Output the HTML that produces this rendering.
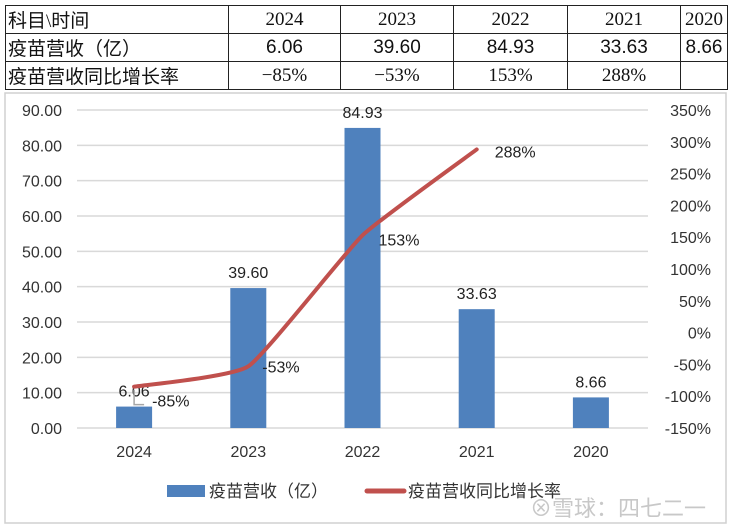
<!DOCTYPE html>
<html><head><meta charset="utf-8"><style>
body{margin:0;width:732px;height:528px;background:#fff;overflow:hidden;font-family:"Liberation Sans","Noto Sans CJK SC",sans-serif}
table{position:absolute;left:5px;top:5px;border-collapse:collapse;font-size:19px;table-layout:fixed;width:722px}
td{border:1.5px solid #222;height:27px;padding:0;text-align:center;color:#111;font-family:"Liberation Serif","Noto Sans CJK SC",serif;overflow:hidden;white-space:nowrap}
td.h{text-align:left;padding-left:2px}
td.n{font-family:"Liberation Sans","Noto Sans CJK SC",sans-serif}
</style></head><body>
<table>
<colgroup><col style="width:223px"><col style="width:112px"><col style="width:113px"><col style="width:114px"><col style="width:113px"><col style="width:47px"></colgroup>
<tr><td class="h">科目\时间</td><td>2024</td><td>2023</td><td>2022</td><td>2021</td><td>2020</td></tr>
<tr><td class="h">疫苗营收（亿）</td><td class="n">6.06</td><td class="n">39.60</td><td class="n">84.93</td><td class="n">33.63</td><td class="n">8.66</td></tr>
<tr><td class="h">疫苗营收同比增长率</td><td>−85%</td><td>−53%</td><td>153%</td><td>288%</td><td></td></tr>
</table>
<svg id="chart" width="732" height="528" style="position:absolute;left:0;top:0">
<rect x="5" y="93" width="721" height="430" fill="none" stroke="#d0d0d0" stroke-width="1.5"/>
</svg>
<script>
const categories=["2024","2023","2022","2021","2020"];
const revenue=[6.06,39.60,84.93,33.63,8.66];
const growth=[-85,-53,153,288];
const growthLabels=["-85%","-53%","153%","288%"];
const leftTicks=[0,10,20,30,40,50,60,70,80,90];
const rightTicks=[-150,-100,-50,0,50,100,150,200,250,300,350];
const svg=document.getElementById('chart');const NS='http://www.w3.org/2000/svg';
const X0=77,X1=648,Y0=428,Y1=110;
const xs=i=>X0+(X1-X0)/categories.length*(i+0.5);
const yl=v=>Y0-(v-0)/(90-0)*(Y0-Y1);
const yr=v=>Y0-(v+150)/500*(Y0-Y1);
function mk(t,a,txt){const e=document.createElementNS(NS,t);for(const k in a)e.setAttribute(k,a[k]);if(txt!=null)e.textContent=txt;svg.appendChild(e);return e;}
leftTicks.forEach(v=>{
const g=mk('line',{x1:X0,x2:X1,y1:yl(v),y2:yl(v),stroke:'#d9d9d9','stroke-width':1.5});

const t=mk('text',{x:62,y:yl(v)+6,'text-anchor':'end','font-size':16,fill:'#333'},v.toFixed(2));
});
rightTicks.forEach(v=>{
const t=mk('text',{x:711,y:yr(v)+6,'text-anchor':'end','font-size':16,fill:'#333'},v+'%');
});
categories.forEach((c,i)=>{
const t=mk('text',{x:xs(i),y:457,'text-anchor':'middle','font-size':16,fill:'#333'},c);

const b=mk('rect',{x:xs(i)-18,y:yl(revenue[i]),width:36,height:Y0-yl(revenue[i]),fill:'#4f81bd'});

const l=mk('text',{x:xs(i),y:yl(revenue[i])-10,'text-anchor':'middle','font-size':16,fill:'#222'},revenue[i].toFixed(2));
});
const pts=growth.map((v,i)=>[xs(i),yr(v)]);
let d='M'+pts[0][0]+','+pts[0][1];
for(let i=0;i<pts.length-1;i++){const p0=pts[i-1]||pts[i],p1=pts[i],p2=pts[i+1],p3=pts[i+2]||p2;const k=0.07;
d+=' C'+(p1[0]+(p2[0]-p0[0])*k)+','+(p1[1]+(p2[1]-p0[1])*k)+' '+(p2[0]-(p3[0]-p1[0])*k)+','+(p2[1]-(p3[1]-p1[1])*k)+' '+p2[0]+','+p2[1];}
const ln=mk('path',{d:d,fill:'none',stroke:'#c0504d','stroke-width':4,'stroke-linecap':'round'});

const ld=mk('polyline',{points:`${pts[0][0]},${pts[0][1]+3} ${pts[0][0]},${pts[0][1]+18} ${pts[0][0]+10},${pts[0][1]+18}`,fill:'none',stroke:'#a6a6a6','stroke-width':1.5});

const offs=[[18,20],[14,6],[16,10],[18,8]];
growthLabels.forEach((s,i)=>{const t=mk('text',{x:pts[i][0]+offs[i][0],y:pts[i][1]+offs[i][1],'font-size':16,fill:'#222'},s);
});
const lb=mk('rect',{x:167,y:485,width:38,height:12,fill:'#4f81bd'});
const lt=mk('text',{x:209,y:497,'font-size':17,fill:'#333'},'疫苗营收（亿）');
const ll=mk('line',{x1:367,x2:404,y1:491,y2:491,stroke:'#c0504d','stroke-width':5,'stroke-linecap':'round'});
const lt2=mk('text',{x:408,y:497,'font-size':17,fill:'#333'},'疫苗营收同比增长率');
const wm=mk('text',{x:530,y:516,'font-size':22,fill:'#c8c8c8'},'⊗雪球：四七二一');
</script>
</body></html>
